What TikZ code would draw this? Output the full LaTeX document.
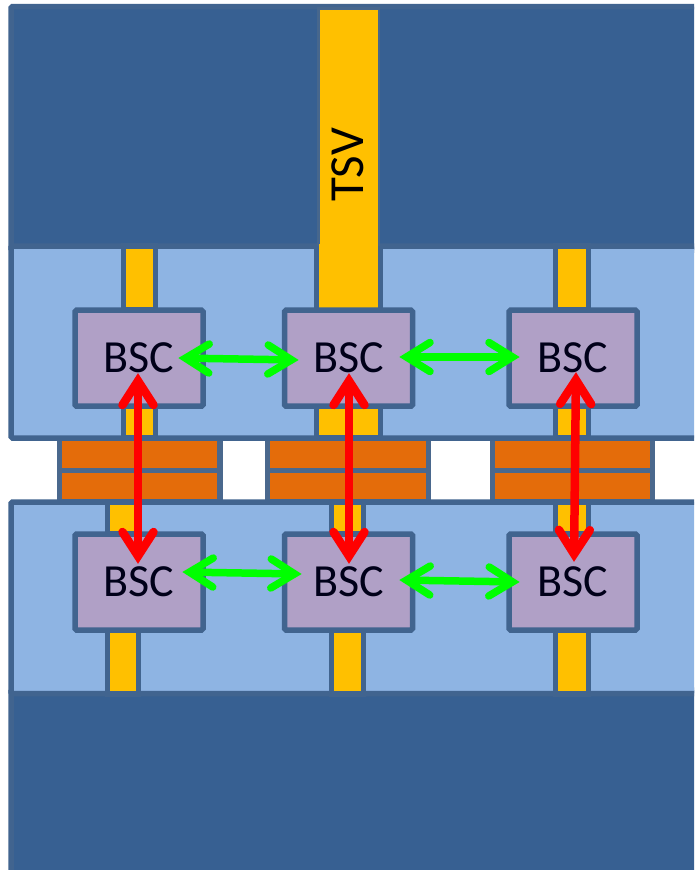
\documentclass[tikz,border=0pt]{standalone}
\usepackage{fontspec}
\setmainfont{Carlito}
\usetikzlibrary{calc}
\definecolor{darkband}{HTML}{376092}
\definecolor{lightband}{HTML}{8EB4E3}
\definecolor{edgeblue}{HTML}{41648F}
\definecolor{viaamber}{HTML}{FFC000}
\definecolor{bscpurple}{HTML}{B0A0C6}
\definecolor{bumporange}{HTML}{E46C0A}
\definecolor{puregreen}{RGB}{0,255,0}
\tikzset{
  x=1pt,y=-1pt,
  layer/.style={draw=edgeblue,line width=5.5pt,rounded corners=1.5pt},
  darkpart/.style={layer,fill=darkband},
  lightpart/.style={layer,fill=lightband},
  via/.style={draw=edgeblue,line width=5.5pt,fill=viaamber},
  bump/.style={draw=edgeblue!85!gray,line width=5.5pt,fill=bumporange},
  bsc/.style={draw=edgeblue,line width=5.5pt,fill=bscpurple,rounded corners=1.5pt,
    minimum width=128pt,minimum height=96pt,inner sep=0pt,
    font=\fontsize{46}{46}\selectfont,text=black!90!blue},
  greenarrow/.style={draw=puregreen,line width=7.5pt,line cap=round,miter limit=10},
  redarrow/.style={draw=red,line width=8.5pt,line cap=round,miter limit=10}
}
% #1 style, #2 #3 tips, #4 apex inset, #5 barb length, #6 barb half width
\newcommand{\twohead}[6]{%
  \draw[#1,line cap=butt] ($(#2)!#4pt!(#3)$) -- ($(#3)!#4pt!(#2)$);
  \draw[#1,line join=miter]
    ($($(#2)!#4pt+#5pt!(#3)$)!#6pt!90:(#3)$) -- ($(#2)!#4pt!(#3)$) -- ($($(#2)!#4pt+#5pt!(#3)$)!#6pt!-90:(#3)$);
  \draw[#1,line join=miter]
    ($($(#3)!#4pt+#5pt!(#2)$)!#6pt!90:(#2)$) -- ($(#3)!#4pt!(#2)$) -- ($($(#3)!#4pt+#5pt!(#2)$)!#6pt!-90:(#2)$);
}
\begin{document}
\begin{tikzpicture}
\useasboundingbox (0,0) rectangle (694,870);
\clip (0,0) rectangle (694,870);
\fill[white] (0,0) rectangle (694,870);
% bulk silicon
\draw[darkpart] (11,6.5) rectangle (720,250);
\draw[darkpart] (11,690) rectangle (720,890);
% bumps
\foreach \l/\r in {59.5/220,267.5/428.5,492.5/652.5}{
  \draw[bump] (\l,438) rectangle (\r,470.5);
  \draw[bump] (\l,470.5) rectangle (\r,502);
}
% active layers
\draw[lightpart] (11,246) rectangle (720,438);
\draw[lightpart] (11,502) rectangle (720,693.5);
% TSV
\draw[draw=edgeblue!90!gray,line width=2.5pt,fill=viaamber] (318.5,8.5) rectangle (379,250);
\fill[edgeblue] (378,246) rectangle (383,310);
\fill[edgeblue] (314,246) rectangle (319,310);
\fill[viaamber] (319,244) rectangle (378,312);
\node[rotate=90,inner sep=0pt,font=\fontsize{49}{49}\selectfont,text=black] (tsv) at (348,165) {TSV};
% vias
\draw[via] (123.5,246) rectangle (155.5,310);
\draw[via] (555.5,246) rectangle (588.5,310);
\draw[via] (123.5,406) rectangle (155.5,438);
\draw[via] (316.5,406) rectangle (380.5,438);
\draw[via] (555.5,406) rectangle (588.5,438);
\draw[via] (107.5,502) rectangle (138.5,534);
\draw[via] (331.5,502) rectangle (363.5,534);
\draw[via] (555.5,502) rectangle (588.5,534);
\draw[via] (107.5,630) rectangle (138.5,694);
\draw[via] (331.5,630) rectangle (363.5,694);
\draw[via] (555.5,630) rectangle (588.5,694);
% BSC cells
\node[bsc] (a1) at (139,358.2) {BSC};
\node[bsc] (a2) at (348.5,358.2) {BSC};
\node[bsc] (a3) at (573,358.2) {BSC};
\node[bsc] (b1) at (139,582) {BSC};
\node[bsc] (b2) at (348.5,582) {BSC};
\node[bsc] (b3) at (573,582) {BSC};
% connector ends
\coordinate (ga1r) at (178,358); \coordinate (ga2l) at (299,360);
\coordinate (ga2r) at (399,357); \coordinate (ga3l) at (520,357);
\coordinate (gb1r) at (182,572); \coordinate (gb2l) at (302,574);
\coordinate (gb2r) at (399,580); \coordinate (gb3l) at (520,582);
\coordinate (ra1) at (138,373); \coordinate (rb1) at (138,564);
\coordinate (ra2) at (349,373); \coordinate (rb2) at (349,564);
\coordinate (ra3) at (576,372); \coordinate (rb3) at (574,562);
% green arrows
\twohead{greenarrow}{ga1r}{ga2l}{7.5}{23.5}{14.5}
\twohead{greenarrow}{ga2r}{ga3l}{7.5}{23.5}{14.5}
\twohead{greenarrow}{gb1r}{gb2l}{7.5}{23.5}{14.5}
\twohead{greenarrow}{gb2r}{gb3l}{7.5}{23.5}{14.5}
% red arrows
\twohead{redarrow}{ra1}{rb1}{8}{24}{15.5}
\twohead{redarrow}{ra2}{rb2}{8}{24}{15.5}
\twohead{redarrow}{ra3}{rb3}{8}{24}{15.5}
\end{tikzpicture}
\end{document}
